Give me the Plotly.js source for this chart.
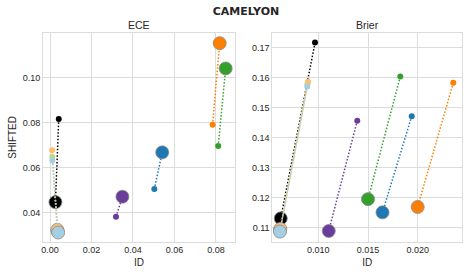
<!DOCTYPE html>
<html><head><meta charset="utf-8">
<script src="https://cdn.plot.ly/plotly-3.0.1.min.js"></script>
<style>html,body{margin:0;padding:0;background:#fff}#c{width:469px;height:276px}</style>
</head><body><div id="c"></div>
<script>
// Series (model) names and colours
const models = ['m1','m2','m3','m4','m5','m6','m7','m8'];
const colors = ['#000000','#b2df8a','#fdbf6f','#a6cee3','#6a3d9a','#1f78b4','#33a02c','#ff7f00'];

// ECE: small point (start) and big point (end), ID and SHIFTED values
const eceIdSmall   = [0.0042, 0.0011, 0.0010, 0.0011, 0.0318, 0.0503, 0.0811, 0.0784];
const eceShSmall   = [0.0815, 0.0646, 0.0676, 0.0631, 0.0381, 0.0504, 0.0695, 0.0790];
const eceIdBig     = [0.0026, 0.0036, 0.0035, 0.0039, 0.0349, 0.0541, 0.0847, 0.0818];
const eceShBig     = [0.0446, 0.0318, 0.0323, 0.0311, 0.0470, 0.0667, 0.1040, 0.1152];

// Brier
const brierIdSmall = [0.00967, 0.00890, 0.00896, 0.00889, 0.01392, 0.01940, 0.01825, 0.02358];
const brierShSmall = [0.1717, 0.1578, 0.1587, 0.1571, 0.1457, 0.1472, 0.1604, 0.1583];
const brierIdBig   = [0.00622, 0.00615, 0.00618, 0.00614, 0.01105, 0.01646, 0.01500, 0.02000];
const brierShBig   = [0.1132, 0.1093, 0.1097, 0.1088, 0.1090, 0.1152, 0.1196, 0.1170];

// Tick values
const eceXTicks = [0, 0.02, 0.04, 0.06, 0.08];
const eceYTicks = [0.04, 0.06, 0.08, 0.10];
const brierXTicks = [0.010, 0.015, 0.020];
const brierYTicks = [0.11, 0.12, 0.13, 0.14, 0.15, 0.16, 0.17];

const traces = [];
function addPanel(idS, shS, idB, shB, xa, ya) {
  for (let i = 0; i < models.length; i++) {
    traces.push({
      type: 'scatter', mode: 'lines+markers', name: models[i], showlegend: false,
      x: [idS[i], idB[i]], y: [shS[i], shB[i]], xaxis: xa, yaxis: ya,
      line: {color: colors[i], width: 1.5, dash: '1.5px,1.8px'},
      marker: {color: colors[i], opacity: 1, size: [6, 13], line: {color: '#8a8a8a', width: [0, 0.8]}},
      hoverinfo: 'x+y'
    });
  }
}
addPanel(eceIdSmall, eceShSmall, eceIdBig, eceShBig, 'x', 'y');
addPanel(brierIdSmall, brierShSmall, brierIdBig, brierShBig, 'x2', 'y2');

const W = 469, H = 276;
const gridC = '#dcdcdc', txt = '#262626';
const tf = {family: 'Liberation Sans, Arial, sans-serif', size: 9, color: txt};
function ax(extra) {
  return Object.assign({
    showgrid: true, gridcolor: gridC, gridwidth: 1, zeroline: false,
    showline: true, linecolor: gridC, linewidth: 1, mirror: true,
    ticks: '', tickfont: tf, automargin: false
  }, extra);
}

const layout = {
  width: W, height: H,
  margin: {l: 0, r: 0, t: 0, b: 0},
  paper_bgcolor: '#fff', plot_bgcolor: '#fff',
  showlegend: false,
  title: {text: '<b>CAMELYON</b>', font: {family: 'DejaVu Sans, sans-serif', size: 11, color: txt},
          x: 246 / W, xanchor: 'center', y: 1 - 11 / H, yanchor: 'middle'},
  xaxis: ax({domain: [43 / W, 235 / W], range: [-0.0034, 0.0892], tickvals: eceXTicks, tickformat: '.2f',
             anchor: 'y', title: {text: 'ID', font: {family: 'Liberation Sans, Arial, sans-serif', size: 10, color: txt}, standoff: 4}}),
  yaxis: ax({domain: [1 - 241.5 / H, 1 - 33.3 / H], range: [0.0271, 0.1196], tickvals: eceYTicks, tickformat: '.2f',
             anchor: 'x', title: {text: 'SHIFTED', font: {family: 'Liberation Sans, Arial, sans-serif', size: 10, color: txt}, standoff: 4}}),
  xaxis2: ax({domain: [272.3 / W, 462.3 / W], range: [0.00537, 0.02449], tickvals: brierXTicks, tickformat: '.3f',
              anchor: 'y2', title: {text: 'ID', font: {family: 'Liberation Sans, Arial, sans-serif', size: 10, color: txt}, standoff: 4}}),
  yaxis2: ax({domain: [1 - 241.5 / H, 1 - 33.3 / H], range: [0.1055, 0.1748], tickvals: brierYTicks, tickformat: '.2f',
              anchor: 'x2'}),
  annotations: [
    {text: 'ECE', x: 139 / W, y: 1 - 24.5 / H, xref: 'paper', yref: 'paper', showarrow: false,
     xanchor: 'center', yanchor: 'middle', font: {family: 'Liberation Sans, Arial, sans-serif', size: 10.5, color: txt}},
    {text: 'Brier', x: 367.3 / W, y: 1 - 24.5 / H, xref: 'paper', yref: 'paper', showarrow: false,
     xanchor: 'center', yanchor: 'middle', font: {family: 'Liberation Sans, Arial, sans-serif', size: 10.5, color: txt}}
  ]
};

Plotly.newPlot('c', traces, layout, {staticPlot: true, displayModeBar: false});
</script>
</body></html>
